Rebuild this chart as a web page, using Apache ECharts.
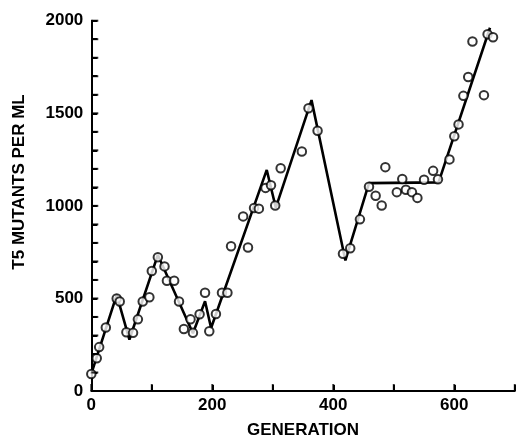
<!DOCTYPE html>
<html>
<head>
<meta charset="utf-8">
<script src="https://cdn.jsdelivr.net/npm/echarts@6/dist/echarts.min.js"></script>
<style>html,body{margin:0;padding:0;background:#fff}#c{width:524px;height:444px}</style>
</head>
<body>
<div id="c"></div>
<script>
// Observed points: generation and T5 mutants per ml
const generation = [0, 9, 13, 24, 42, 47, 58, 69, 77, 85, 96, 100, 110, 121, 125, 137, 145, 153, 164, 168, 179, 188, 195, 206, 216, 225, 231, 251, 259, 269, 277, 288, 297, 304, 313, 348, 359, 374, 416, 428, 444, 459, 470, 480, 486, 505, 514, 520, 530, 539, 550, 565, 573, 592, 600, 607, 615, 623, 630, 649, 655, 664];
const mutants = [92, 177, 237, 343, 500, 483, 317, 314, 387, 483, 506, 648, 723, 673, 595, 595, 483, 335, 387, 314, 415, 531, 323, 416, 531, 531, 782, 943, 775, 988, 985, 1097, 1111, 1002, 1203, 1294, 1527, 1406, 741, 771, 927, 1103, 1055, 1002, 1209, 1074, 1145, 1087, 1074, 1043, 1141, 1189, 1143, 1251, 1376, 1440, 1594, 1696, 1888, 1598, 1927, 1911];
// Drawn trend line vertices
const trendGeneration = [0, 42, 63, 110, 168, 188, 198, 290, 305, 364, 420, 459, 574, 659];
const trendMutants = [92, 519, 278, 735, 312, 485, 340, 1194, 990, 1571, 705, 1123, 1127, 1962];
// Tick values and labels
const xTicks = [0, 100, 200, 300, 400, 500, 600, 700];
const xLabels = [0, 200, 400, 600];
const yTicks = [0, 100, 200, 300, 400, 500, 600, 700, 800, 900, 1000, 1100, 1200, 1300, 1400, 1500, 1600, 1700, 1800, 1900, 2000];
const yLabels = [0, 500, 1000, 1500, 2000];

const font = '"Liberation Sans", Arial, sans-serif';
const chart = echarts.init(document.getElementById('c'));
chart.setOption({
  animation: false,
  backgroundColor: '#fff',
  grid: {left: 91.3, right: 9.2, top: 20.7, bottom: 49.7},
  graphic: [{
    type: 'text', x: 19, y: 182, rotation: Math.PI / 2,
    style: {text: 'T5 MUTANTS PER ML', fill: '#000', font: 'bold 17px ' + font, textAlign: 'center', textVerticalAlign: 'middle'}
  }],
  xAxis: {
    type: 'value', min: 0, max: 700, interval: 100,
    name: 'GENERATION', nameLocation: 'middle', nameGap: 31,
    nameTextStyle: {color: '#000', fontFamily: font, fontWeight: 'bold', fontSize: 17},
    axisLine: {show: true, onZero: false, lineStyle: {color: '#000', width: 2}},
    axisTick: {show: true, inside: true, length: 6, lineStyle: {color: '#000', width: 2}},
    axisLabel: {
      color: '#000', fontFamily: font, fontWeight: 'bold', fontSize: 17, margin: 6,
      formatter: v => xLabels.includes(v) ? String(v) : ''
    },
    splitLine: {show: false}
  },
  yAxis: {
    type: 'value', min: 0, max: 2000, interval: 100,
    axisLine: {show: true, onZero: false, lineStyle: {color: '#000', width: 2}},
    axisTick: {show: true, inside: true, length: 6, lineStyle: {color: '#000', width: 2}},
    axisLabel: {
      color: '#000', fontFamily: font, fontWeight: 'bold', fontSize: 17, margin: 8,
      formatter: v => yLabels.includes(v) ? String(v) : ''
    },
    splitLine: {show: false}
  },
  series: [
    {
      type: 'line', data: trendGeneration.map((g, i) => [g, trendMutants[i]]),
      showSymbol: false, symbol: 'none', z: 2,
      lineStyle: {color: '#000', width: 2.6}
    },
    {
      type: 'scatter', data: generation.map((g, i) => [g, mutants[i]]),
      symbol: 'circle', symbolSize: 8.5, z: 3,
      itemStyle: {color: '#fff', borderColor: '#000', borderWidth: 2}
    },
    {
      // inside tick marks along the x axis
      type: 'scatter', data: xTicks.map(v => [v, 0]), clip: false, silent: true,
      symbol: 'rect', symbolSize: [2, 7], symbolOffset: [0, -3.5], z: 4,
      itemStyle: {color: '#000'}
    },
    {
      // inside tick marks along the y axis
      type: 'scatter', data: yTicks.map(v => [0, v]), clip: false, silent: true,
      symbol: 'rect', symbolSize: [7, 2], symbolOffset: [3.5, 0], z: 4,
      itemStyle: {color: '#000'}
    }
  ]
});
</script>
</body>
</html>
